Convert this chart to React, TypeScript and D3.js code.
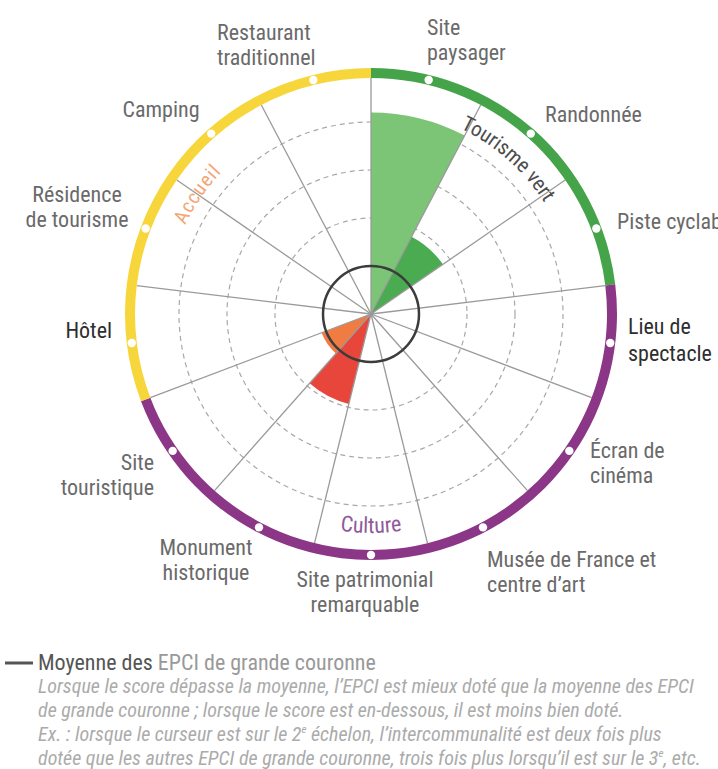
import React, {useMemo} from 'react';
import * as d3 from 'd3';

// categories, clockwise from 12 o'clock
const categories = [
  'Site paysager', 'Randonnée', 'Piste cyclable', 'Lieu de spectacle',
  'Écran de cinéma', 'Musée de France et centre d’art',
  'Site patrimonial remarquable', 'Monument historique', 'Site touristique',
  'Hôtel', 'Résidence de tourisme', 'Camping', 'Restaurant traditionnel',
];
const labelLines = [
  ['Site', 'paysager'], ['Randonnée'], ['Piste cyclable'], ['Lieu de', 'spectacle'],
  ['Écran de', 'cinéma'], ['Musée de France et', 'centre d’art'],
  ['Site patrimonial', 'remarquable'], ['Monument', 'historique'], ['Site', 'touristique'],
  ['Hôtel'], ['Résidence', 'de tourisme'], ['Camping'], ['Restaurant', 'traditionnel'],
];
// score relative to the mean (1 = moyenne des EPCI de grande couronne)
const scores = [4.2, 1.82, 0, 0, 0, 0, 0, 1.93, 1.1, 0, 0, 0, 0];

const groups = ['Tourisme vert', 'Culture', 'Accueil'];
const groupSizes = [3, 6, 4];
const levels = [1, 2, 3, 4, 5];

const legendTitle = ['Moyenne des ', 'EPCI de grande couronne'];
const noteLines = [
  'Lorsque le score dépasse la moyenne, l’EPCI est mieux doté que la moyenne des EPCI',
  'de grande couronne ; lorsque le score est en-dessous, il est moins bien doté.',
  'Ex. : lorsque le curseur est sur le 2|e| échelon, l’intercommunalité est deux fois plus',
  'dotée que les autres EPCI de grande couronne, trois fois plus lorsqu’il est sur le 3|e|, etc.',
];

// styles
const wedgeColors: Record<string, string> = {
  'Site paysager': '#7cc577',
  'Randonnée': '#4aab50',
  'Monument historique': '#e8463a',
  'Site touristique': '#f07c42',
};
const groupColors = ['#45a449', '#8b3687', '#f7d63c'];
const groupTextColors = ['#4d4d4d', '#8e5c9b', '#f3a677'];
const font = '"Liberation Sans Narrow", "Roboto Condensed", "DejaVu Sans Condensed", sans-serif';

const labelLayout = [
  {x: 427, y: 35, anchor: 'start'},
  {x: 545, y: 122, anchor: 'start'},
  {x: 617, y: 229, anchor: 'start'},
  {x: 628, y: 334, anchor: 'start', dark: true, lh: 27},
  {x: 590, y: 458, anchor: 'start'},
  {x: 487, y: 567, anchor: 'start'},
  {x: 365, y: 587, anchor: 'middle'},
  {x: 206, y: 555, anchor: 'middle'},
  {x: 154, y: 470, anchor: 'end'},
  {x: 112, y: 338, anchor: 'end', dark: true},
  {x: 77, y: 202, anchor: 'middle'},
  {x: 161, y: 117, anchor: 'middle'},
  {x: 217, y: 40, anchor: 'start'},
];

const width = 718;
const height = 769;
const cx = 371;
const cy = 314;

const pt = (a: number, r: number) => [cx + r * Math.sin(a), cy - r * Math.cos(a)];
const arcPath = (r: number, a0: number, a1: number) => {
  const [x0, y0] = pt(a0, r);
  const [x1, y1] = pt(a1, r);
  return `M${x0},${y0} A${r},${r} 0 0 ${a1 > a0 ? 1 : 0} ${x1},${y1}`;
};
const rad = (deg: number) => deg * Math.PI / 180;

const App: React.FC = () => {
  const angle = useMemo(() => d3.scaleBand<string>()
      .domain(categories)
      .range([0, 2 * Math.PI])
      .padding(0), []);
  const rScale = useMemo(() => d3.scaleLinear().domain([0, 5]).range([0, 240]), []);
  const arc = d3.arc<any>();

  const groupArcs = useMemo(() => {
    let start = 0;
    return groups.map((g, i) => {
      const a0 = angle(categories[start])!;
      const end = start + groupSizes[i];
      const a1 = end < categories.length ? angle(categories[end])! : 2 * Math.PI;
      start = end;
      return {g, i, a0, a1};
    });
  }, [angle]);

  const bw = angle.bandwidth();

  return (
      <svg width={width} height={height}
           style={{position: 'absolute', left: 0, top: 0, background: '#fff'}}
           fontFamily={font}>
        {/* scale circles */}
        {levels.slice(1, 4).map(l => (
            <circle key={l} cx={cx} cy={cy} r={rScale(l)} fill="none"
                    stroke="#a8a8a8" strokeWidth={1.2} strokeDasharray="5,4"/>
        ))}

        {/* wedges */}
        <g transform={`translate(${cx},${cy})`}>
          {categories.map((c, i) => scores[i] > 0 && (
              <path key={c}
                    d={arc({innerRadius: 0, outerRadius: rScale(scores[i]),
                      startAngle: angle(c)!, endAngle: angle(c)! + bw}) as string}
                    fill={wedgeColors[c]}/>
          ))}
        </g>

        {/* radial lines */}
        {categories.map(c => {
          const [x, y] = pt(angle(c)!, 236);
          return <line key={c} x1={cx} y1={cy} x2={x} y2={y} stroke="#9a9a9a" strokeWidth={1.3}/>;
        })}

        {/* mean */}
        <circle cx={cx} cy={cy} r={rScale(1)} fill="none" stroke="#3c3c3c" strokeWidth={2.5}/>

        {/* outer ring */}
        <g transform={`translate(${cx},${cy})`}>
          {groupArcs.map(({g, i, a0, a1}) => (
              <path key={g} d={arc({innerRadius: 236, outerRadius: 246, startAngle: a0, endAngle: a1}) as string}
                    fill={groupColors[i]}/>
          ))}
        </g>
        {categories.map(c => {
          const [x, y] = pt(angle(c)! + bw / 2, 241);
          return <circle key={c} cx={x} cy={y} r={4.2} fill="#fff"/>;
        })}

        {/* group titles */}
        <defs>
          <path id="g0" d={arcPath(206, rad(11.5), rad(71.5))}/>
          <path id="g1" d={arcPath(219, rad(215), rad(145))}/>
          <path id="g2" d={arcPath(206, rad(274.6), rad(334.6))}/>
        </defs>
        <text fontSize={21} fill={groupTextColors[0]}>
          <textPath href="#g0" startOffset="50%" textAnchor="middle">{groups[0]}</textPath>
        </text>
        <text fontSize={22} fill={groupTextColors[1]}>
          <textPath href="#g1" startOffset="50%" textAnchor="middle">{groups[1]}</textPath>
        </text>
        <text fontSize={20} fill={groupTextColors[2]} letterSpacing={1}>
          <textPath href="#g2" startOffset="50%" textAnchor="middle">{groups[2]}</textPath>
        </text>

        {/* category labels */}
        {labelLines.map((lines, i) => {
          const l = labelLayout[i];
          return (
              <text key={categories[i]} x={l.x} y={l.y} textAnchor={l.anchor as any}
                    fontSize={22} fill={l.dark ? '#2e2e2e' : '#6a6a6a'}>
                {lines.map((s, j) => (
                    <tspan key={j} x={l.x} dy={j === 0 ? 0 : (l.lh || 25)}>{s}</tspan>
                ))}
              </text>
          );
        })}

        {/* legend */}
        <line x1={5} x2={33} y1={663} y2={663} stroke="#555" strokeWidth={3}/>
        <text x={38} y={670} fontSize={22}>
          <tspan fill="#555">{legendTitle[0]}</tspan>
          <tspan fill="#999">{legendTitle[1]}</tspan>
        </text>
        {noteLines.map((s, i) => (
            <text key={i} x={38} y={693 + i * 24} fontSize={20} fontStyle="italic" fill="#ababab">
              {s.split('|').map((part, j) => j % 2 === 1
                  ? <tspan key={j} fontSize={11} dy={-8}>{part}</tspan>
                  : <tspan key={j} dy={j === 0 ? 0 : 8}>{part}</tspan>)}
            </text>
        ))}
      </svg>
  );
};

export default App;
